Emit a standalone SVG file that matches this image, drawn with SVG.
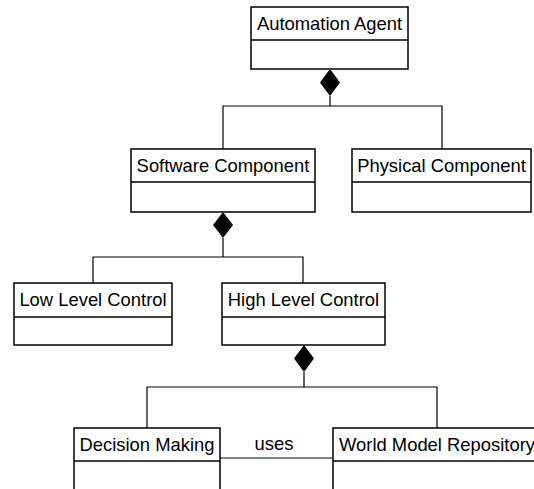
<svg xmlns="http://www.w3.org/2000/svg" width="534" height="489" viewBox="0 0 534 489">
<style>
.box{fill:#fff;stroke:#000;stroke-width:1.5}
.div{stroke:#000;stroke-width:1.5}
.lbl{font-family:"Liberation Sans",Arial,sans-serif;font-size:18.4px;fill:#000;text-anchor:middle}
.con{fill:none;stroke:#000;stroke-width:1.2}
.dia{fill:#000;stroke:none}
</style>
<rect width="534" height="489" fill="#fff"/>
<g id="connectors">
  <polygon class="dia" points="330,69 340,82.5 330,96 320,82.5"/>
  <path class="con" d="M330,96 V106 M223,149 V106 H442 V149"/>
  <polygon class="dia" points="223,212 233,225 223,238 213,225"/>
  <path class="con" d="M223,238 V257 M93,283 V257 H303 V283"/>
  <polygon class="dia" points="304,345 314,358.5 304,372 294,358.5"/>
  <path class="con" d="M304,372 V387 M147,428 V387 H437 V428"/>
  <path class="con" d="M220,458 H333" stroke="#555"/>
  <text class="lbl" x="274" y="450">uses</text>
</g>
<g id="automation-agent">
  <rect class="box" x="251" y="7" width="157" height="62"/>
  <line class="div" x1="251" y1="40" x2="408" y2="40"/>
  <text class="lbl" x="329.5" y="30">Automation Agent</text>
</g>
<g id="software-component">
  <rect class="box" x="131" y="149" width="184" height="63"/>
  <line class="div" x1="131" y1="182" x2="315" y2="182"/>
  <text class="lbl" x="223" y="172">Software Component</text>
</g>
<g id="physical-component">
  <rect class="box" x="352" y="149" width="179" height="63"/>
  <line class="div" x1="352" y1="182" x2="531" y2="182"/>
  <text class="lbl" x="441.5" y="172">Physical Component</text>
</g>
<g id="low-level-control">
  <rect class="box" x="14" y="283" width="158" height="62"/>
  <line class="div" x1="14" y1="317" x2="172" y2="317"/>
  <text class="lbl" x="93" y="306">Low Level Control</text>
</g>
<g id="high-level-control">
  <rect class="box" x="222" y="283" width="163" height="62"/>
  <line class="div" x1="222" y1="317" x2="385" y2="317"/>
  <text class="lbl" x="303.5" y="306">High Level Control</text>
</g>
<g id="decision-making">
  <rect class="box" x="74" y="428" width="146" height="70"/>
  <line class="div" x1="74" y1="461" x2="220" y2="461"/>
  <text class="lbl" x="147" y="451">Decision Making</text>
</g>
<g id="world-model-repository">
  <rect class="box" x="333" y="428" width="208" height="70"/>
  <line class="div" x1="333" y1="461" x2="541" y2="461"/>
  <text class="lbl" x="437" y="451">World Model Repository</text>
</g>
</svg>
